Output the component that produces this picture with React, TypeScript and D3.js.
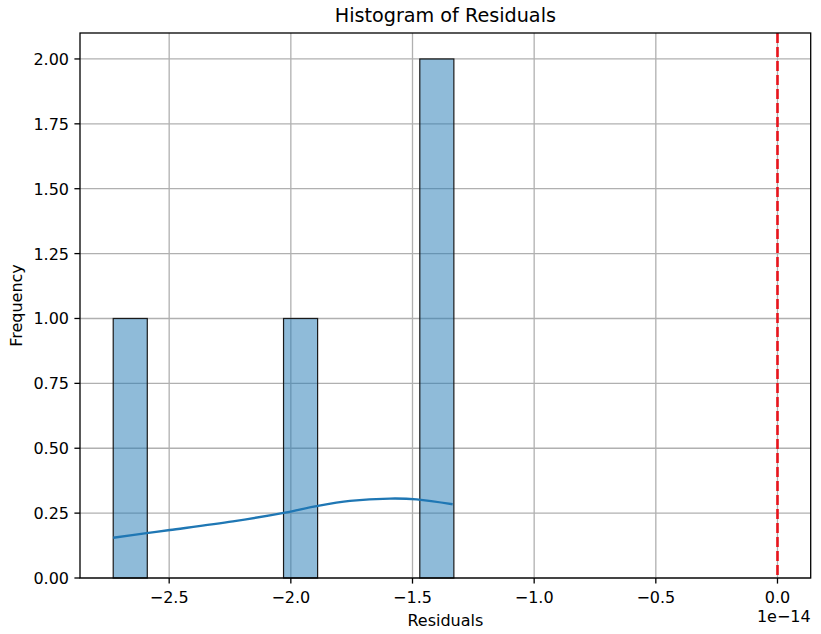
import React from "react";
import * as d3 from "d3";

const binStart = -2.73;
const binWidth = 0.14;
const counts = [1, 0, 0, 0, 0, 1, 0, 0, 0, 2];
const kdeX = [-2.73, -2.593, -2.497, -2.238, -2.024, -1.894, -1.757, -1.593, -1.483, -1.335];
const kdeY = [0.155, 0.173, 0.185, 0.218, 0.252, 0.277, 0.297, 0.306, 0.303, 0.284];
const xTicks = [-2.5, -2.0, -1.5, -1.0, -0.5, 0.0];
const yTicks = [0, 0.25, 0.5, 0.75, 1.0, 1.25, 1.5, 1.75, 2.0];
const refLine = 0;

const W = 821, H = 634;
const L = 80, R = 810.7, T = 33, B = 578;
const FONT = "DejaVu Sans";

export default function App() {
  const x = d3.scaleLinear().domain([-2.8665, 0.1365]).range([L, R]);
  const y = d3.scaleLinear().domain([0, 2.1]).range([B, T]);
  const line = d3.line<number>().x((_, i) => x(kdeX[i])).y((d) => y(d)).curve(d3.curveCatmullRom.alpha(0.5));
  const tx = (s: string, px: number, py: number, anchor: string, size: number) => (
    <text x={px} y={py} textAnchor={anchor} fontSize={size} fontFamily={FONT} fill="#000">{s}</text>
  );
  return (
    <svg width={W} height={H} style={{ position: "absolute", left: 0, top: 0, background: "#fff" }}>
      <rect x={0} y={0} width={W} height={H} fill="#fff" />
      {xTicks.map((t) => (
        <line key={"gx" + t} x1={x(t)} x2={x(t)} y1={T} y2={B} stroke="#b0b0b0" strokeWidth={1.3} />
      ))}
      {yTicks.map((t) => (
        <line key={"gy" + t} x1={L} x2={R} y1={y(t)} y2={y(t)} stroke="#b0b0b0" strokeWidth={1.3} />
      ))}
      {counts.map((c, i) =>
        c > 0 ? (
          <rect key={"b" + i} x={x(binStart + i * binWidth)} width={x(binStart + (i + 1) * binWidth) - x(binStart + i * binWidth)}
            y={y(c)} height={y(0) - y(c)} fill="rgba(31,119,180,0.5)" stroke="#1a1a1a" strokeWidth={1.2} />
        ) : null
      )}
      <path d={line(kdeY) || ""} fill="none" stroke="#1f77b4" strokeWidth={2.4} />
      <line x1={x(refLine)} x2={x(refLine)} y1={T} y2={B} stroke="#e8141c" strokeWidth={2.6} strokeDasharray="10,4" />
      <rect x={L} y={T} width={R - L} height={B - T} fill="none" stroke="#000" strokeWidth={1.3} />
      {xTicks.map((t) => (
        <g key={"tx" + t}>
          <line x1={x(t)} x2={x(t)} y1={B} y2={B + 5.6} stroke="#000" strokeWidth={1.3} />
          {tx(d3.format(".1f")(t).replace("-", "\u2212"), x(t), 603, "middle", 16)}
        </g>
      ))}
      {yTicks.map((t) => (
        <g key={"ty" + t}>
          <line x1={L - 5.6} x2={L} y1={y(t)} y2={y(t)} stroke="#000" strokeWidth={1.3} />
          {tx(d3.format(".2f")(t), L - 11, y(t) + 6, "end", 16)}
        </g>
      ))}
      {tx("Histogram of Residuals", (L + R) / 2, 21.5, "middle", 19.2)}
      {tx("Residuals", (L + R) / 2, 626, "middle", 16)}
      {tx("1e\u221214", R, 621.5, "end", 16)}
      <text x={0} y={0} textAnchor="middle" fontSize={16} fontFamily={FONT}
        transform={`translate(22,${(T + B) / 2}) rotate(-90)`}>Frequency</text>
    </svg>
  );
}
